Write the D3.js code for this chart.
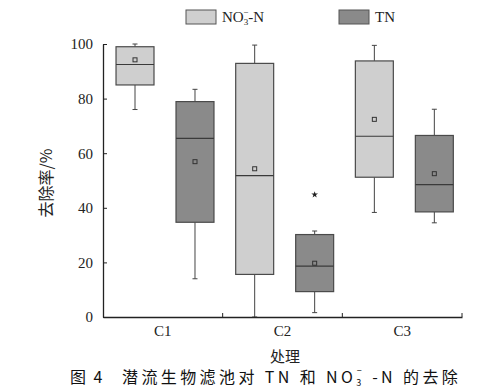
<!DOCTYPE html>
<html><head><meta charset="utf-8">
<script src="https://cdn.jsdelivr.net/npm/d3@7"></script>
<style>body{margin:0;background:#fff}svg{display:block}</style>
</head><body>
<svg id="c" width="494" height="390"></svg>
<script>
const categories = ["C1", "C2", "C3"];
const series = ["NO3", "TN"];
const seriesColors = ["#cfcfcf", "#8a8a8a"];
// [min, q1, median, q3, max, mean]
const no3Stats = [
  [76, 85, 92.5, 99, 100, 94.2],
  [0, 15.6, 51.8, 92.9, 99.6, 54.3],
  [38.3, 51.2, 66.2, 93.8, 99.5, 72.4]
];
const tnStats = [
  [14.0, 34.7, 65.4, 78.9, 83.4, 56.9],
  [1.6, 9.3, 18.6, 30.2, 31.5, 19.7],
  [34.5, 38.5, 48.5, 66.5, 76.1, 52.5]
];
const tnOutliers = [[], [44.8], []];
const yTicks = [0, 20, 40, 60, 80, 100];

const svg = d3.select("#c");
const x = d3.scaleBand().domain(categories).range([103, 462]).padding(0);
const sub = d3.scaleBand().domain(series).range([0, x.bandwidth()])
  .paddingInner(0.367).paddingOuter(0.181).align(0.6);
const y = d3.scaleLinear().domain([0, 100]).range([317, 44]);

const serif = "'Liberation Serif','DejaVu Serif',serif";
const cjk = "'Noto Sans CJK SC','Noto Sans',sans-serif";

// boxes
const allStats = [no3Stats, tnStats];
series.forEach((s, si) => {
  categories.forEach((c, ci) => {
    const st = allStats[si][ci];
    const x0 = x(c) + sub(s), w = sub.bandwidth(), cx = x0 + w / 2;
    const g = svg.append("g");
    g.append("line").attr("x1", cx).attr("x2", cx).attr("y1", y(st[4])).attr("y2", y(st[3]))
      .attr("stroke", "#444").attr("stroke-width", 1);
    g.append("line").attr("x1", cx).attr("x2", cx).attr("y1", y(st[1])).attr("y2", y(st[0]))
      .attr("stroke", "#444").attr("stroke-width", 1);
    [st[0], st[4]].forEach(v => {
      g.append("line").attr("x1", cx - 2.5).attr("x2", cx + 2.5).attr("y1", y(v)).attr("y2", y(v))
        .attr("stroke", "#444").attr("stroke-width", 1);
    });
    g.append("rect").attr("x", x0).attr("y", y(st[3])).attr("width", w).attr("height", y(st[1]) - y(st[3]))
      .attr("fill", seriesColors[si]).attr("stroke", "#4a4a4a").attr("stroke-width", 1.2);
    g.append("line").attr("x1", x0).attr("x2", x0 + w).attr("y1", y(st[2])).attr("y2", y(st[2]))
      .attr("stroke", "#3a3a3a").attr("stroke-width", 1.2);
    g.append("rect").attr("x", cx - 2).attr("y", y(st[5]) - 2).attr("width", 4).attr("height", 4)
      .attr("fill", "none").attr("stroke", "#333").attr("stroke-width", 1);
  });
});
// outliers
categories.forEach((c, ci) => {
  tnOutliers[ci].forEach(v => {
    const cx = x(c) + sub("TN") + sub.bandwidth() / 2;
    svg.append("path").attr("d", d3.symbol(d3.symbolStar, 14)())
      .attr("transform", `translate(${cx},${y(v)})`).attr("fill", "#222");
  });
});

// y axis
const yAxis = svg.append("g").attr("transform", "translate(103,0)")
  .call(d3.axisLeft(y).tickValues(yTicks).tickSize(-4).tickPadding(10).tickSizeOuter(0));
yAxis.select(".domain").attr("stroke", "#222").attr("stroke-width", 1.3);
yAxis.selectAll(".tick line").attr("stroke", "#222");
yAxis.selectAll("text").attr("font-family", serif).attr("font-size", 15).attr("fill", "#222");

// x axis
const xAxis = svg.append("g").attr("transform", "translate(0,317)")
  .call(d3.axisBottom(x).tickSize(0).tickPadding(8).tickSizeOuter(0));
xAxis.select(".domain").attr("stroke", "#222").attr("stroke-width", 1.3);
xAxis.selectAll("text").attr("font-family", serif).attr("font-size", 15).attr("fill", "#222");
categories.forEach(c => {
  svg.append("line").attr("x1", x(c) + x.bandwidth()).attr("x2", x(c) + x.bandwidth())
    .attr("y1", 317).attr("y2", 313).attr("stroke", "#222");
});

// axis titles
svg.append("text").attr("transform", "translate(52,183) rotate(-90)").attr("text-anchor", "middle")
  .attr("font-family", cjk).attr("font-size", 16).attr("fill", "#222").text("去除率/%");
svg.append("text").attr("x", 285).attr("y", 362).attr("text-anchor", "middle")
  .attr("font-family", cjk).attr("font-size", 15).attr("fill", "#222").text("处理");

// caption
svg.append("text").attr("x", 70).attr("y", 383).attr("font-family", cjk)
  .attr("font-size", 16).attr("letter-spacing", 2).attr("fill", "#111").text("图 4");
const cap = svg.append("text").attr("x", 122).attr("y", 383).attr("font-family", cjk)
  .attr("font-size", 16).attr("letter-spacing", 3.4).attr("fill", "#111");
cap.append("tspan").text("潜流生物滤池对 TN 和 NO");
cap.append("tspan").attr("font-size", 9).attr("dy", 3).text("3");
cap.append("tspan").attr("font-size", 9).attr("dy", -12).attr("dx", -8).text("−");
cap.append("tspan").attr("dy", 9).text(" -N 的去除");

// legend
const legendX = [186, 339];
series.forEach((s, si) => {
  svg.append("rect").attr("x", legendX[si]).attr("y", 10).attr("width", 30).attr("height", 14)
    .attr("fill", seriesColors[si]).attr("stroke", "#555").attr("stroke-width", 1);
});
const l1 = svg.append("text").attr("x", 222).attr("y", 22).attr("font-family", serif)
  .attr("font-size", 15).attr("fill", "#222");
l1.append("tspan").text("NO");
l1.append("tspan").attr("font-size", 9).attr("dy", 3).text("3");
l1.append("tspan").attr("font-size", 9).attr("dy", -10).attr("dx", -5).text("−");
l1.append("tspan").attr("dy", 7).text("-N");
svg.append("text").attr("x", 375).attr("y", 22).attr("font-family", serif)
  .attr("font-size", 15).attr("fill", "#222").text("TN");
</script>
</body></html>
